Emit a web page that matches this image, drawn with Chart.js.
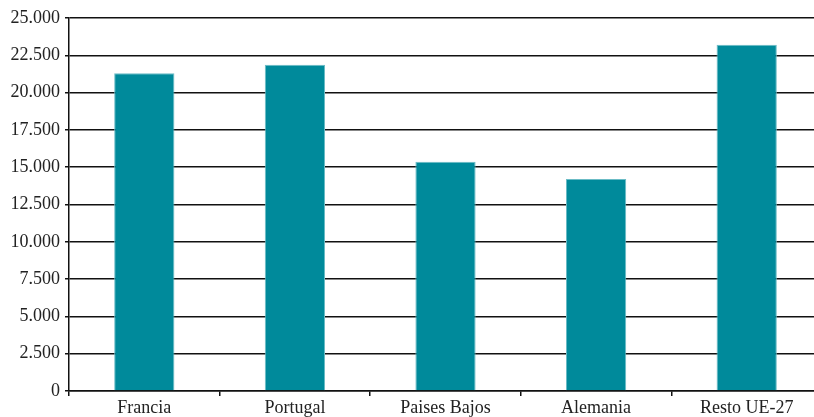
<!DOCTYPE html>
<html>
<head>
<meta charset="utf-8">
<script src="https://cdn.jsdelivr.net/npm/chart.js@4"></script>
<style>
    html, body { margin: 0; padding: 0; background: #fff; overflow: hidden; }
    .container { width: 822px; height: 417px; }
</style>
</head>
<body>
<div class="container"><canvas id="barChart"></canvas></div>
<script>
const categories = ['Francia', 'Portugal', 'Paises Bajos', 'Alemania', 'Resto UE-27'];
const values = [21300, 21860, 15360, 14210, 23200];
const yTicks = [0, 2500, 5000, 7500, 10000, 12500, 15000, 17500, 20000, 22500, 25000];

const barColor = '#008a9b';
const edgeColor = '#6bbcc6';
const lineColor = '#111';
const fontFamily = '"Liberation Serif", "DejaVu Serif", serif';

// thousands with a dot, as in the source (5.000, not 5000)
const formatThousands = (v) => String(v).replace(/\B(?=(\d{3})+(?!\d))/g, '.');

const ctx = document.getElementById('barChart');
new Chart(ctx, {
    type: 'bar',
    data: {
        labels: categories,
        datasets: [
            {
                data: values,
                backgroundColor: barColor,
                borderColor: edgeColor,
                borderWidth: 1,
                barPercentage: 0.4,
                categoryPercentage: 1.0
            }
        ]
    },
    options: {
        responsive: true,
        maintainAspectRatio: false,
        animation: false,
        layout: {
            padding: { top: 18, right: 0, bottom: 0, left: 0 }
        },
        plugins: {
            legend: { display: false },
            tooltip: { enabled: false }
        },
        scales: {
            x: {
                afterFit: (scale) => { scale.height = 26; },
                grid: {
                    offset: true,
                    drawOnChartArea: false,
                    drawTicks: true,
                    tickLength: 5,
                    color: lineColor,
                    lineWidth: 1.5
                },
                border: { display: true, color: lineColor, width: 1.5 },
                ticks: {
                    color: '#222',
                    padding: 1,
                    font: { family: fontFamily, size: 18 }
                }
            },
            y: {
                min: 0,
                max: 25000,
                afterFit: (scale) => { scale.width = 69; },
                afterBuildTicks: (scale) => {
                    scale.ticks = yTicks.map((v) => ({ value: v }));
                },
                grid: {
                    drawTicks: true,
                    tickLength: 4,
                    color: lineColor,
                    lineWidth: 1.5
                },
                border: { display: true, color: lineColor, width: 1.5 },
                ticks: {
                    color: '#222',
                    padding: 5,
                    font: { family: fontFamily, size: 18 },
                    callback: (v) => formatThousands(v)
                }
            }
        }
    }
});
</script>
</body>
</html>
